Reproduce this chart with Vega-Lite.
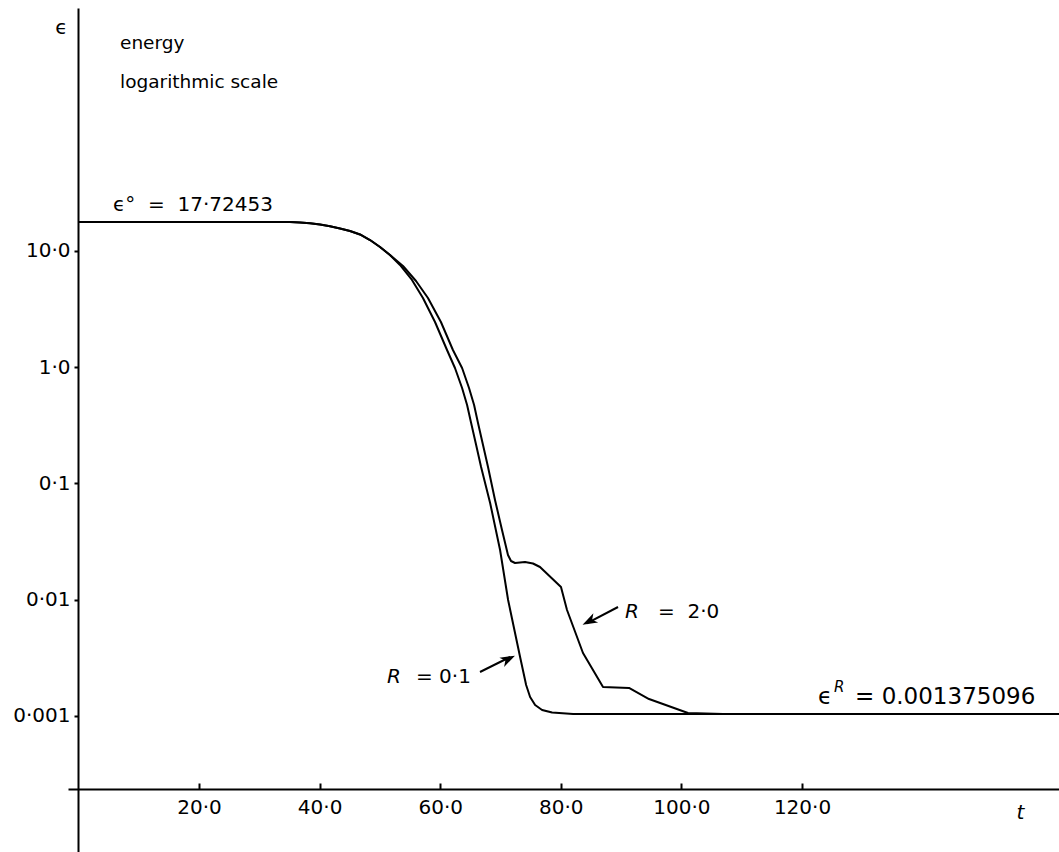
{
  "$schema": "https://vega.github.io/schema/vega-lite/v6.json",
  "width": 991,
  "height": 844,
  "autosize": {"type": "none"},
  "padding": {"left": 68, "top": 8, "right": 0, "bottom": 0},
  "background": "white",
  "config": {
    "view": {"stroke": null},
    "font": "DejaVu Sans",
    "axis": {"grid": false, "domainColor": "black", "domainWidth": 2, "tickColor": "black", "tickWidth": 2, "labelColor": "black", "labelFont": "DejaVu Sans", "labelFontSize": 20, "titleFont": "DejaVu Sans", "titleColor": "black", "titleFontWeight": "normal", "labelOverlap": false, "labelFlush": false}
  },
  "datasets": {
    "curves": [
      {"R": "0.1", "t": 0, "eps": 17.72453},
      {"R": "0.1", "t": 35.09, "eps": 17.72},
      {"R": "0.1", "t": 36.75, "eps": 17.59},
      {"R": "0.1", "t": 38.41, "eps": 17.31},
      {"R": "0.1", "t": 40.07, "eps": 16.9},
      {"R": "0.1", "t": 41.72, "eps": 16.31},
      {"R": "0.1", "t": 43.38, "eps": 15.62},
      {"R": "0.1", "t": 45.04, "eps": 14.86},
      {"R": "0.1", "t": 46.7, "eps": 13.87},
      {"R": "0.1", "t": 48.36, "eps": 12.43},
      {"R": "0.1", "t": 50.02, "eps": 10.82},
      {"R": "0.1", "t": 51.67, "eps": 9.24},
      {"R": "0.1", "t": 53.33, "eps": 7.578},
      {"R": "0.1", "t": 55.32, "eps": 5.63},
      {"R": "0.1", "t": 57.14, "eps": 3.942},
      {"R": "0.1", "t": 59.14, "eps": 2.45},
      {"R": "0.1", "t": 61.13, "eps": 1.407},
      {"R": "0.1", "t": 62.45, "eps": 0.9853},
      {"R": "0.1", "t": 63.63, "eps": 0.663},
      {"R": "0.1", "t": 64.46, "eps": 0.4735},
      {"R": "0.1", "t": 65.13, "eps": 0.3315},
      {"R": "0.1", "t": 65.96, "eps": 0.2144},
      {"R": "0.1", "t": 66.78, "eps": 0.1387},
      {"R": "0.1", "t": 68.28, "eps": 0.06796},
      {"R": "0.1", "t": 69.93, "eps": 0.02679},
      {"R": "0.1", "t": 71.26, "eps": 0.00995},
      {"R": "0.1", "t": 73.25, "eps": 0.003218},
      {"R": "0.1", "t": 74.25, "eps": 0.001848},
      {"R": "0.1", "t": 74.91, "eps": 0.001457},
      {"R": "0.1", "t": 75.74, "eps": 0.001243},
      {"R": "0.1", "t": 76.9, "eps": 0.001126},
      {"R": "0.1", "t": 78.56, "eps": 0.001072},
      {"R": "0.1", "t": 82.04, "eps": 0.00104},
      {"R": "0.1", "t": 162.62, "eps": 0.00104},
      {"R": "2.0", "t": 0, "eps": 17.72453},
      {"R": "2.0", "t": 35.09, "eps": 17.72},
      {"R": "2.0", "t": 36.75, "eps": 17.59},
      {"R": "2.0", "t": 38.41, "eps": 17.31},
      {"R": "2.0", "t": 40.07, "eps": 16.9},
      {"R": "2.0", "t": 41.72, "eps": 16.31},
      {"R": "2.0", "t": 43.38, "eps": 15.62},
      {"R": "2.0", "t": 45.04, "eps": 14.86},
      {"R": "2.0", "t": 46.7, "eps": 13.87},
      {"R": "2.0", "t": 48.36, "eps": 12.43},
      {"R": "2.0", "t": 50.02, "eps": 10.82},
      {"R": "2.0", "t": 51.67, "eps": 9.24},
      {"R": "2.0", "t": 53.83, "eps": 7.43},
      {"R": "2.0", "t": 55.99, "eps": 5.52},
      {"R": "2.0", "t": 57.97, "eps": 3.942},
      {"R": "2.0", "t": 60.12, "eps": 2.45},
      {"R": "2.0", "t": 62.11, "eps": 1.407},
      {"R": "2.0", "t": 63.63, "eps": 0.9853},
      {"R": "2.0", "t": 64.78, "eps": 0.663},
      {"R": "2.0", "t": 65.62, "eps": 0.4735},
      {"R": "2.0", "t": 66.27, "eps": 0.3315},
      {"R": "2.0", "t": 67.1, "eps": 0.2144},
      {"R": "2.0", "t": 67.93, "eps": 0.1387},
      {"R": "2.0", "t": 69.09, "eps": 0.07212},
      {"R": "2.0", "t": 70.25, "eps": 0.03981},
      {"R": "2.0", "t": 71.24, "eps": 0.02426},
      {"R": "2.0", "t": 71.74, "eps": 0.02154},
      {"R": "2.0", "t": 72.41, "eps": 0.02071},
      {"R": "2.0", "t": 74.06, "eps": 0.02112},
      {"R": "2.0", "t": 75.39, "eps": 0.0205},
      {"R": "2.0", "t": 76.55, "eps": 0.01913},
      {"R": "2.0", "t": 80.03, "eps": 0.01287},
      {"R": "2.0", "t": 81.03, "eps": 0.008163},
      {"R": "2.0", "t": 83.68, "eps": 0.003483},
      {"R": "2.0", "t": 87.0, "eps": 0.001776},
      {"R": "2.0", "t": 91.31, "eps": 0.001741},
      {"R": "2.0", "t": 94.63, "eps": 0.0014},
      {"R": "2.0", "t": 101.09, "eps": 0.001061},
      {"R": "2.0", "t": 106.9, "eps": 0.00104},
      {"R": "2.0", "t": 162.62, "eps": 0.00104}
    ],
    "arrows": [
      {"arrow": "R2", "t": 89.49, "eps": 0.00866},
      {"arrow": "R2", "t": 84.3, "eps": 0.00625},
      {"arrow": "R01", "t": 66.6, "eps": 0.00239},
      {"arrow": "R01", "t": 71.6, "eps": 0.00322}
    ]
  },
  "encoding": {
    "x": {
      "field": "t", "type": "quantitative",
      "scale": {"domain": [-1.725, 162.62], "nice": false, "zero": false},
      "axis": {"orient": "bottom", "values": [20, 40, 60, 80, 100, 120], "tickSize": -6, "labelPadding": 14, "offset": -63,
        "labelExpr": "replace(format(datum.value, '.1f'), '.', '·')",
        "title": "t", "titleFontStyle": "italic", "titleFontSize": 20, "titleX": 952, "titleY": 23, "titleAlign": "center", "titleBaseline": "middle"}
    },
    "y": {
      "field": "eps", "type": "quantitative",
      "scale": {"type": "log", "domain": [0.00006761, 1231], "nice": false},
      "axis": {"orient": "left", "values": [0.001, 0.01, 0.1, 1, 10], "tickSize": 4, "labelPadding": 4, "offset": -10,
        "labelExpr": "datum.value >= 5 ? '10·0' : datum.value >= 0.5 ? '1·0' : datum.value >= 0.05 ? '0·1' : datum.value >= 0.005 ? '0·01' : '0·001'",
        "title": "ϵ", "titleAngle": 0, "titleX": -17, "titleY": 19, "titleFontSize": 20, "titleAlign": "center", "titleBaseline": "middle"}
    }
  },
  "layer": [
    {
      "data": {"name": "curves"},
      "mark": {"type": "line", "color": "black", "strokeWidth": 2, "interpolate": "linear", "strokeJoin": "round"},
      "encoding": {"detail": {"field": "R"}}
    },
    {
      "data": {"name": "arrows"},
      "mark": {"type": "line", "color": "black", "strokeWidth": 2},
      "encoding": {"detail": {"field": "arrow"}}
    },
    {
      "data": {"values": [{"t": 84.7, "eps": 0.00652}]},
      "mark": {"type": "point", "shape": "M 1 0 L -1 -0.7 L -0.45 0 L -1 0.7 Z", "filled": true, "color": "black", "opacity": 1, "size": 220, "angle": 153}
    },
    {
      "data": {"values": [{"t": 71.3, "eps": 0.00309}]},
      "mark": {"type": "point", "shape": "M 1 0 L -1 -0.7 L -0.45 0 L -1 0.7 Z", "filled": true, "color": "black", "opacity": 1, "size": 220, "angle": 333}
    },
    {
      "data": {"values": [
        {"t": 6.9, "eps": 615.5, "label": "energy"},
        {"t": 6.9, "eps": 284.3, "label": "logarithmic scale"}
      ]},
      "mark": {"type": "text", "align": "left", "baseline": "middle", "font": "DejaVu Sans", "fontSize": 18.5, "color": "black"},
      "encoding": {"text": {"field": "label"}}
    },
    {
      "data": {"values": [
        {"t": 5.74, "eps": 24.87, "label": "ϵ°\u00a0\u00a0=\u00a0\u00a017·72453"},
        {"t": 96.12, "eps": 0.007846, "label": "=\u00a0\u00a02·0"},
        {"t": 55.98, "eps": 0.002165, "label": "= 0·1"}
      ]},
      "mark": {"type": "text", "align": "left", "baseline": "middle", "font": "DejaVu Sans", "fontSize": 20, "color": "black"},
      "encoding": {"text": {"field": "label"}}
    },
    {
      "data": {"values": [
        {"t": 122.65, "eps": 0.001457, "label": "ϵ"},
        {"t": 128.8, "eps": 0.001457, "label": "= 0.001375096"}
      ]},
      "mark": {"type": "text", "align": "left", "baseline": "middle", "font": "DejaVu Sans", "fontSize": 23, "color": "black"},
      "encoding": {"text": {"field": "label"}}
    },
    {
      "data": {"values": [
        {"t": 90.65, "eps": 0.007846, "label": "R"},
        {"t": 51.18, "eps": 0.002165, "label": "R"}
      ]},
      "mark": {"type": "text", "align": "left", "baseline": "middle", "font": "DejaVu Sans", "fontSize": 20, "fontStyle": "italic", "color": "black"},
      "encoding": {"text": {"field": "label"}}
    },
    {
      "data": {"values": [
        {"t": 125.3, "eps": 0.001776, "label": "R"}
      ]},
      "mark": {"type": "text", "align": "left", "baseline": "middle", "font": "DejaVu Sans", "fontSize": 15, "fontStyle": "italic", "color": "black"},
      "encoding": {"text": {"field": "label"}}
    }
  ]
}
